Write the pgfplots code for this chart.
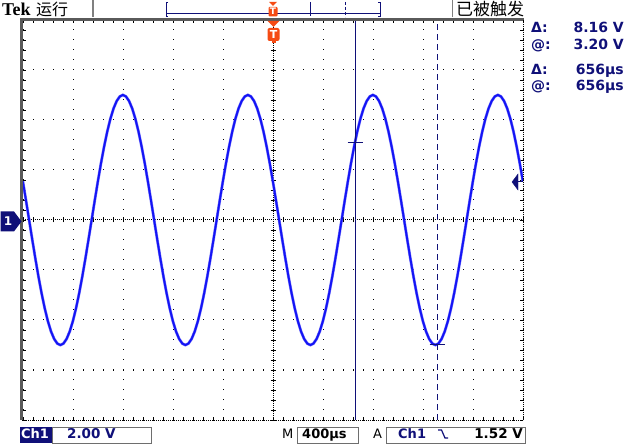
\documentclass[border=0pt]{standalone}
\usepackage{pgfplots}
\pgfplotsset{compat=1.18}
\usepackage{fontspec}
\setmainfont{DejaVu Sans}
\newfontfamily\tekfont{Liberation Serif}
\newfontfamily\cjk{Noto Sans CJK SC}
\definecolor{navy}{RGB}{16,16,120}
\definecolor{trace}{RGB}{20,20,245}
\definecolor{tracehalo}{RGB}{120,120,250}
\definecolor{tko}{RGB}{245,75,20}
\definecolor{bord}{RGB}{90,90,90}
\definecolor{boxg}{RGB}{110,110,110}
\pgfplotstableread{
t v
-2001 1.545
-1976 0.782
-1951 0
-1926 -0.782
-1901 -1.545
-1876 -2.270
-1851 -2.939
-1826 -3.536
-1801 -4.045
-1776 -4.455
-1751 -4.755
-1726 -4.938
-1701 -5.000
-1676 -4.938
-1651 -4.755
-1626 -4.455
-1601 -4.045
-1576 -3.536
-1551 -2.939
-1526 -2.270
-1501 -1.545
-1476 -0.782
-1451 0
-1426 0.782
-1401 1.545
-1376 2.270
-1351 2.939
-1326 3.536
-1301 4.045
-1276 4.455
-1251 4.755
-1226 4.938
-1201 5.000
-1176 4.938
-1151 4.755
-1126 4.455
-1101 4.045
-1076 3.536
-1051 2.939
-1026 2.270
-1001 1.545
-976 0.782
-951 0
-926 -0.782
-901 -1.545
-876 -2.270
-851 -2.939
-826 -3.536
-801 -4.045
-776 -4.455
-751 -4.755
-726 -4.938
-701 -5.000
-676 -4.938
-651 -4.755
-626 -4.455
-601 -4.045
-576 -3.536
-551 -2.939
-526 -2.270
-501 -1.545
-476 -0.782
-451 0
-426 0.782
-401 1.545
-376 2.270
-351 2.939
-326 3.536
-301 4.045
-276 4.455
-251 4.755
-226 4.938
-201 5.000
-176 4.938
-151 4.755
-126 4.455
-101 4.045
-76 3.536
-51 2.939
-26 2.270
-1 1.545
24 0.782
49 0
74 -0.782
99 -1.545
124 -2.270
149 -2.939
174 -3.536
199 -4.045
224 -4.455
249 -4.755
274 -4.938
299 -5.000
324 -4.938
349 -4.755
374 -4.455
399 -4.045
424 -3.536
449 -2.939
474 -2.270
499 -1.545
524 -0.782
549 0
574 0.782
599 1.545
624 2.270
649 2.939
674 3.536
699 4.045
724 4.455
749 4.755
774 4.938
799 5.000
824 4.938
849 4.755
874 4.455
899 4.045
924 3.536
949 2.939
974 2.270
999 1.545
1024 0.782
1049 0
1074 -0.782
1099 -1.545
1124 -2.270
1149 -2.939
1174 -3.536
1199 -4.045
1224 -4.455
1249 -4.755
1274 -4.938
1299 -5.000
1324 -4.938
1349 -4.755
1374 -4.455
1399 -4.045
1424 -3.536
1449 -2.939
1474 -2.270
1499 -1.545
1524 -0.782
1549 0
1574 0.782
1599 1.545
1624 2.270
1649 2.939
1674 3.536
1699 4.045
1724 4.455
1749 4.755
1774 4.938
1799 5.000
1824 4.938
1849 4.755
1874 4.455
1899 4.045
1924 3.536
1949 2.939
1974 2.270
1999 1.545
}\wave
\begin{document}
\begin{tikzpicture}
\fill[white] (0,0) rectangle (631pt,444pt);
\useasboundingbox (0,0) rectangle (631pt,444pt);
% grid axis
\begin{axis}[name=ax, at={(23pt,24pt)}, anchor=south west, scale only axis,
  width=500pt, height=400pt, xmin=-2000, xmax=2000, ymin=-8, ymax=8,
  xtick distance=400, ytick distance=2, minor x tick num=4, minor y tick num=4,
  xticklabels={}, yticklabels={}, tick align=inside,
  major tick length=3pt, minor tick length=3pt, tick style={black, line width=0.8pt},
  grid=major, major grid style={black, line width=1pt, dash pattern=on 1pt off 9pt},
  axis line style={draw=none}]
\addplot[draw=none] coordinates {(0,0)};
\end{axis}
% centre cross, trace and cursors
\begin{axis}[at={(23pt,24pt)}, anchor=south west, scale only axis,
  width=500pt, height=400pt, xmin=-2000, xmax=2000, ymin=-8, ymax=8,
  axis lines=middle, axis line style={-, black, line width=1pt, dash pattern=on 1pt off 1pt},
  xtick distance=80, ytick distance=0.4, xticklabels={}, yticklabels={},
  tick align=center, major tick length=5pt, tick style={black, line width=0.8pt}]
\addplot[tracehalo, line width=2.8pt] table[x=t, y=v] {\wave};
\addplot[trace, line width=1.9pt] table[x=t, y=v] {\wave};
% cursors
\addplot[navy, line width=1pt] coordinates {(656,-8) (656,8)};
\addplot[navy, line width=1pt, dash pattern=on 6pt off 4pt] coordinates {(1312,-8) (1312,8)};
\addplot[navy, line width=1pt] coordinates {(596,3.1) (716,3.1)};
\addplot[navy, line width=1pt] coordinates {(1252,-5.0) (1372,-5.0)};
% trigger level marker
\addplot[navy, fill=navy] coordinates {(1912,1.52) (1960,1.84) (1960,1.20) (1912,1.52)};
\addplot[navy, line width=1pt] coordinates {(1950,1.52) (2000,1.52)};
\end{axis}
\begin{scope}[x=1pt,y=1pt]
% borders
\draw[bord, line width=2.5pt] (21.5,24) -- (21.5,424.5) -- (523.5,424.5);
\draw[black, line width=0.8pt, dash pattern=on 1pt off 1pt] (523,424) -- (523,24) -- (22,24);
% top bar
\node[anchor=base west, inner sep=0, font=\tekfont\fontsize{18}{18}\selectfont\bfseries] at (2,428) {Tek};
\node[anchor=west, inner sep=0, font=\cjk\fontsize{16}{16}\selectfont] at (36,434.5) {运行};
\draw[gray, line width=1.5pt] (93,444) -- (93,427);
\draw[gray, line width=1.5pt] (452.5,444) -- (452.5,427);
\node[anchor=west, inner sep=0, font=\cjk\fontsize{17}{17}\selectfont] at (456,434.5) {已被触发};
\draw[navy, line width=1pt] (168,441.5) -- (166,441.5) -- (166,427.5) -- (168,427.5);
\draw[navy, line width=1pt] (378,441.5) -- (380,441.5) -- (380,427.5) -- (378,427.5);
\draw[navy, line width=1pt] (166,430.5) -- (380,430.5);
\draw[navy, line width=1pt] (310,442) -- (310,428);
\draw[navy, line width=1pt, dash pattern=on 3pt off 2pt] (345.5,442) -- (345.5,427);
% trigger position markers
\fill[tko] (269,442) -- (277,442) -- (273,438) -- cycle;
\fill[tko, rounded corners=1pt] (268.5,437) rectangle (277.5,427.5);
\node[white, inner sep=0, font=\fontsize{9}{9}\selectfont\bfseries] at (273,432.3) {T};
\fill[tko] (267.5,423) -- (279.5,423) -- (273.5,417) -- cycle;
\fill[tko, rounded corners=2pt] (267.5,416) rectangle (279.5,403);
\fill[tko] (271.5,403.5) rectangle (275.5,401);
\node[white, inner sep=0, font=\fontsize{11}{11}\selectfont\bfseries] at (273.5,409.5) {T};
% ground marker
\fill[navy] (0.5,212.5) -- (14,212.5) -- (21.5,222.5) -- (14,232.5) -- (0.5,232.5) -- cycle;
\node[white, inner sep=0, font=\fontsize{12}{12}\selectfont\bfseries] at (8,222.5) {1};
% readouts
\begin{scope}[every node/.style={inner sep=0, navy, font=\fontsize{14}{14}\selectfont\bfseries}]
\node[anchor=base west] at (531,411) {Δ:};
\node[anchor=base east] at (624,411) {8.16 V};
\node[anchor=base west] at (531,394) {@:};
\node[anchor=base east] at (624,394) {3.20 V};
\node[anchor=base west] at (531,369) {Δ:};
\node[anchor=base east] at (624,369) {656µs};
\node[anchor=base west] at (531,353) {@:};
\node[anchor=base east] at (624,353) {656µs};
\end{scope}
% bottom bar
\fill[navy] (20,1) rectangle (51.5,17);
\node[anchor=base west, inner sep=0, white, font=\fontsize{13}{13}\selectfont\bfseries] at (21,5.5) {Ch1};
\draw[boxg, line width=1pt] (52.5,1) rectangle (151,17);
\node[anchor=base west, inner sep=0, navy, font=\fontsize{13.5}{13.5}\selectfont\bfseries] at (67,5.5) {2.00 V};
\node[anchor=base west, inner sep=0, font=\fontsize{13}{13}\selectfont] at (282,5.5) {M};
\draw[boxg, line width=1pt] (297.5,1) rectangle (358,17);
\node[anchor=base west, inner sep=0, font=\fontsize{13}{13}\selectfont\bfseries] at (302,5.5) {400µs};
\node[anchor=base west, inner sep=0, font=\fontsize{13}{13}\selectfont] at (373,5.5) {A};
\draw[boxg, line width=1pt] (386,1) rectangle (525,17);
\node[anchor=base west, inner sep=0, navy, font=\fontsize{13}{13}\selectfont\bfseries] at (398,5.5) {Ch1};
\draw[navy, line width=1.2pt] (438,14) -- (441.5,14) -- (445,6) -- (448,6);
\node[anchor=base east, inner sep=0, font=\fontsize{13.5}{13.5}\selectfont\bfseries] at (523,5.5) {1.52 V};
\end{scope}
\end{tikzpicture}
\end{document}
